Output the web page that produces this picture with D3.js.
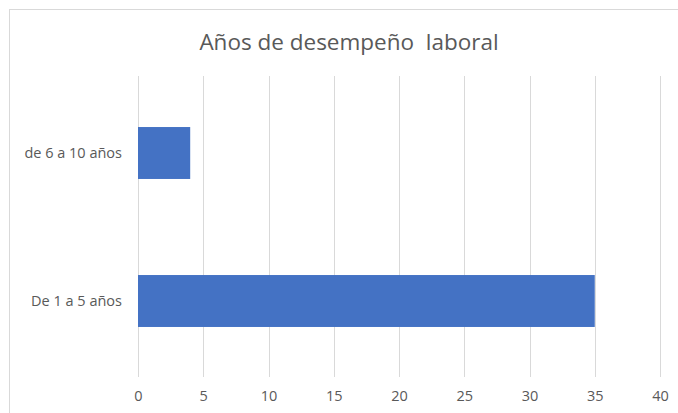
<!DOCTYPE html>
<html><head><meta charset="utf-8">
<script src="https://d3js.org/d3.v7.min.js"></script>
<style>html,body{margin:0;padding:0;background:#fff;}svg{display:block;}</style>
</head><body>
<script>
const categories = ["de 6 a 10 años", "De 1 a 5 años"];
const values = [4, 35];
const ticks = [0, 5, 10, 15, 20, 25, 30, 35, 40];
const title = "Años de desempeño  laboral";

const W = 678, H = 413;
const svg = d3.select("body").append("svg").attr("width", W).attr("height", H);
const font = "'Open Sans', 'Noto Sans', sans-serif";

// chart frame
svg.append("rect").attr("x", 9.5).attr("y", 9.5).attr("width", W).attr("height", H)
  .attr("fill", "#fff").attr("stroke", "#d9d9d9");

const x = d3.scaleLinear().domain([0, 40]).range([138, 660]);
const y = d3.scaleBand().domain(categories).range([79, 375]).paddingInner(0.649).paddingOuter(0.3245);

// gridlines
svg.append("g").selectAll("line").data(ticks).join("line")
  .attr("x1", d => Math.round(x(d)) + 0.5).attr("x2", d => Math.round(x(d)) + 0.5)
  .attr("y1", 76).attr("y2", 377)
  .attr("stroke", "#d9d9d9").attr("stroke-width", 1);

// bars
svg.append("g").selectAll("rect").data(categories).join("rect")
  .attr("x", x(0)).attr("y", d => y(d))
  .attr("width", (d, i) => x(values[i]) - x(0))
  .attr("height", y.bandwidth())
  .attr("fill", "#4472c4");

// x axis labels
const xAxis = d3.axisBottom(x).tickValues(ticks).tickSize(0).tickPadding(0);
const gx = svg.append("g").attr("transform", "translate(0,391)").call(xAxis);
gx.select(".domain").remove();
gx.selectAll("text").attr("font-family", font).attr("font-size", 14.5).attr("fill", "#595959");

// y axis labels
const yAxis = d3.axisLeft(y).tickSize(0).tickPadding(0);
const gy = svg.append("g").attr("transform", "translate(122,0)").call(yAxis);
gy.select(".domain").remove();
gy.selectAll("text").attr("font-family", font).attr("font-size", 14.5).attr("fill", "#595959");

// title
svg.append("text").attr("x", 349).attr("y", 50).attr("text-anchor", "middle")
  .attr("xml:space", "preserve").style("white-space", "pre")
  .attr("font-family", font).attr("font-size", 22.5).attr("fill", "#595959").text(title);
</script>
</body></html>
